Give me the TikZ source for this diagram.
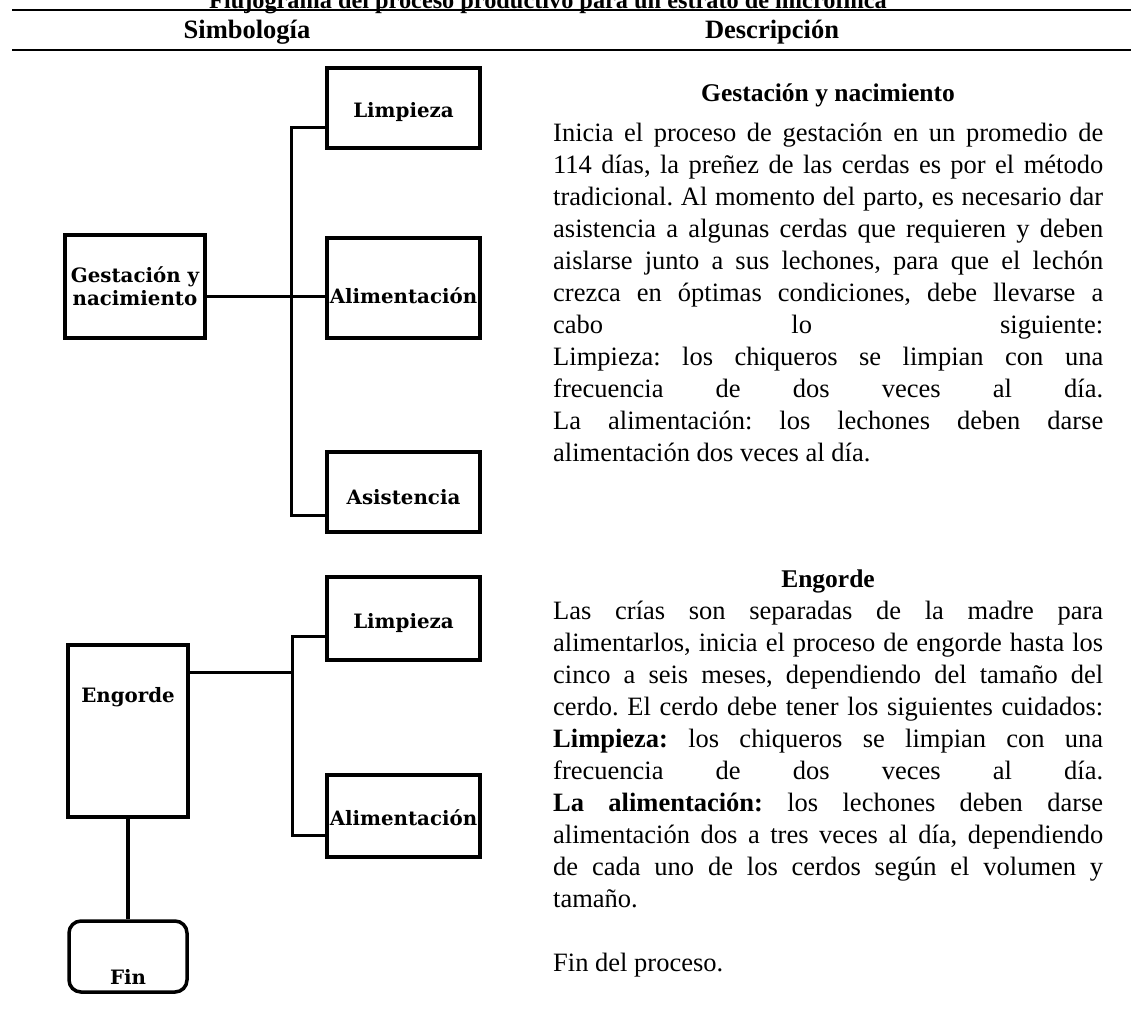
\documentclass[tikz,border=0pt]{standalone}
\usepackage{fontspec}
\setmainfont{Liberation Serif}
\newfontfamily\boxfont{DejaVu Serif}
\newcommand{\jl}[1]{\makebox[550pt][s]{#1}}
\frenchspacing
\begin{document}
\begin{tikzpicture}[x=1pt,y=-1pt,
  box/.style={draw,line width=3.5pt,inner sep=0pt},
  lbl/.style={inner sep=0pt,font=\boxfont\bfseries\fontsize{19.8}{22.5}\selectfont,align=center},
  conn/.style={line width=3pt},
  rulel/.style={line width=2.5pt},
  head/.style={anchor=base,inner sep=0pt,font=\bfseries\fontsize{26.5}{31}\selectfont},
  subhead/.style={anchor=base,inner sep=0pt,font=\bfseries\fontsize{25.5}{30}\selectfont},
  body/.style={anchor=base west,inner sep=0pt,font=\fontsize{26.5}{31}\selectfont},
]
\useasboundingbox (0,0) rectangle (1131,1010);
\fill[white] (0,0) rectangle (1131,1010);

% ---- header ----
\node[subhead,anchor=base east,font=\bfseries\fontsize{24.3}{29}\selectfont] (title) at (887,8) {Flujograma del proceso productivo para un estrato de microfinca};
\coordinate (r1a) at (12,10); \coordinate (r1b) at (1131,10);
\coordinate (r2a) at (12,50); \coordinate (r2b) at (1131,50);
\draw[rulel] (r1a) -- (r1b);
\draw[rulel] (r2a) -- (r2b);
\node[head] (hsim) at (247,38) {Simbología};
\node[head] (hdes) at (772,38) {Descripción};

% ---- section 1 boxes ----
\node[box,minimum width=140pt,minimum height=103pt] (gest) at (135,286.5) {};
\node[lbl] (gestl) at (135,286) {Gestación y\\nacimiento};
\node[box,minimum width=153pt,minimum height=80pt] (lim1) at (403.5,108) {};
\node[lbl] (lim1l) at (403.5,112) {Limpieza};
\node[box,minimum width=153pt,minimum height=100pt] (ali1) at (403.5,288) {};
\node[lbl] (ali1l) at (403.5,296) {Alimentación};
\node[box,minimum width=153pt,minimum height=80pt] (asis1) at (403.5,492) {};
\node[lbl] (asis1l) at (403.5,497) {Asistencia};

\coordinate (j1a) at (291,127);
\coordinate (j1b) at (291,296);
\coordinate (j1c) at (291,515);
\draw[conn] (lim1.west |- j1a) -- (j1a) -- (j1c) -- (asis1.west |- j1c);
\draw[conn] (gest.east |- j1b) -- (ali1.west |- j1b);

% ---- section 2 boxes ----
\node[box,minimum width=120pt,minimum height=172pt] (eng) at (128,731) {};
\node[lbl] (engl) at (128,697) {Engorde};
\node[box,minimum width=153pt,minimum height=83pt] (lim2) at (403.5,618.5) {};
\node[lbl] (lim2l) at (403.5,623) {Limpieza};
\node[box,minimum width=153pt,minimum height=82pt] (ali2) at (403.5,816) {};
\node[lbl] (ali2l) at (403.5,818) {Alimentación};
\node[box,rounded corners=12pt,minimum width=118pt,minimum height=71pt] (fin) at (128,956.5) {};
\node[lbl] (finl) at (128,977) {Fin};

\coordinate (j2a) at (292,636);
\coordinate (j2b) at (292,672);
\coordinate (j2c) at (292,835);
\draw[conn] (lim2.west |- j2a) -- (j2a) -- (j2c) -- (ali2.west |- j2c);
\draw[conn] (eng.east |- j2b) -- (j2b);
\draw[conn,line width=4.5pt] (eng.south) -- (fin.north);

% ---- description, section 1 ----
\node[subhead] (d1h) at (828,101) {Gestación y nacimiento};
\node[body] (d1a) at (553,141) {\jl{Inicia el proceso de gestación en un promedio de}};
\node[body] (d1b) at (553,173) {\jl{114 días, la preñez de las cerdas es por el método}};
\node[body] (d1c) at (553,205) {\jl{tradicional. Al momento del parto, es necesario dar}};
\node[body] (d1d) at (553,237) {\jl{asistencia a algunas cerdas que requieren y deben}};
\node[body] (d1e) at (553,269) {\jl{aislarse junto a sus lechones, para que el lechón}};
\node[body] (d1f) at (553,301) {\jl{crezca en óptimas condiciones, debe llevarse a}};
\node[body] (d1g) at (553,333) {\jl{cabo lo siguiente:}};
\node[body] (d1h2) at (553,365) {\jl{Limpieza: los chiqueros se limpian con una}};
\node[body] (d1i) at (553,397) {\jl{frecuencia de dos veces al día.}};
\node[body] (d1j) at (553,429) {\jl{La alimentación: los lechones deben darse}};
\node[body] (d1k) at (553,461) {alimentación dos veces al día.};

% ---- description, section 2 ----
\node[subhead] (d2h) at (828,587) {Engorde};
\node[body] (d2a) at (553,619) {\jl{Las crías son separadas de la madre para}};
\node[body] (d2b) at (553,651) {\jl{alimentarlos, inicia el proceso de engorde hasta los}};
\node[body] (d2c) at (553,683) {\jl{cinco a seis meses, dependiendo del tamaño del}};
\node[body] (d2d) at (553,715) {\jl{cerdo. El cerdo debe tener los siguientes cuidados:}};
\node[body] (d2e) at (553,747) {\jl{\textbf{Limpieza:} los chiqueros se limpian con una}};
\node[body] (d2f) at (553,779) {\jl{frecuencia de dos veces al día.}};
\node[body] (d2g) at (553,811) {\jl{\textbf{La alimentación:} los lechones deben darse}};
\node[body] (d2h2) at (553,843) {\jl{alimentación dos a tres veces al día, dependiendo}};
\node[body] (d2i) at (553,875) {\jl{de cada uno de los cerdos según el volumen y}};
\node[body] (d2j) at (553,907) {tamaño.};
\node[body] (d2k) at (553,971) {Fin del proceso.};
\end{tikzpicture}
\end{document}
